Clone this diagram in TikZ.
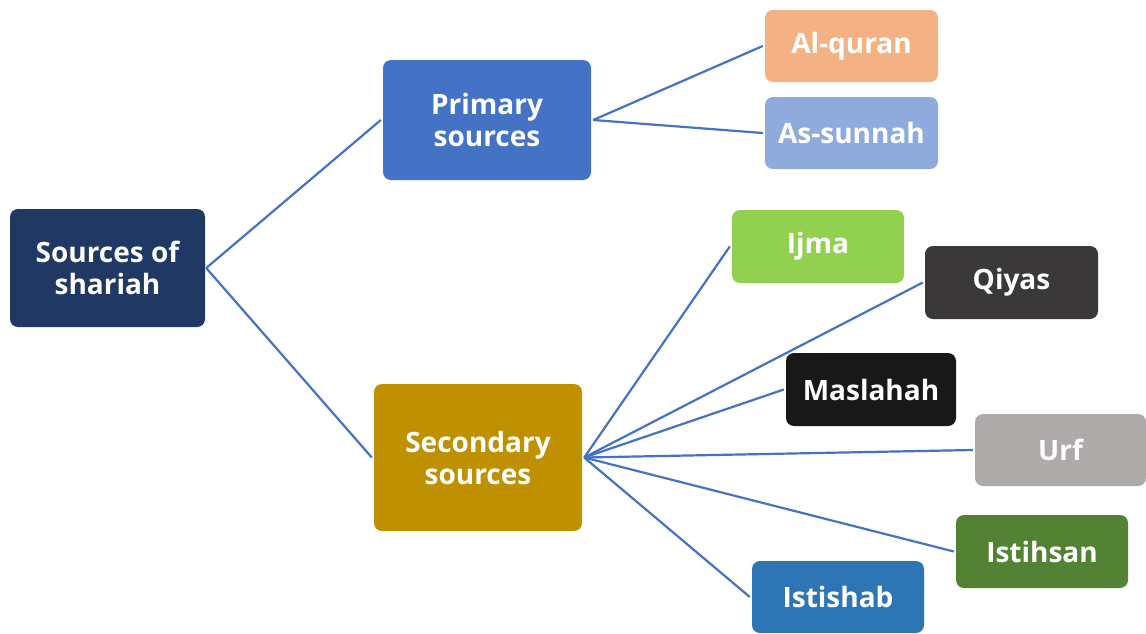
\documentclass[tikz,border=0pt]{standalone}
\usepackage{fontspec}
\setmainfont{Open Sans}
\begin{document}
\begin{tikzpicture}[x=1pt,y=-1pt,
  box/.style={rectangle, rounded corners=8pt, draw=none, text=white,
    font=\fontsize{28}{32}\selectfont\bfseries, align=center, inner sep=0pt},
  link/.style={draw={rgb,255:red,68;green,114;blue,196}, line width=2.2pt}]
\useasboundingbox (0,0) rectangle (1146,633);
\definecolor{cRoot}{HTML}{1F3864}
\definecolor{cPrim}{HTML}{4472C4}
\definecolor{cQuran}{HTML}{F4B183}
\definecolor{cSunnah}{HTML}{8FAADC}
\definecolor{cIjma}{HTML}{92D050}
\definecolor{cQiyas}{HTML}{3A3838}
\definecolor{cMasl}{HTML}{181818}
\definecolor{cUrf}{HTML}{AEAAAA}
\definecolor{cIsth}{HTML}{548235}
\definecolor{cIsts}{HTML}{2E75B6}
\definecolor{cSec}{HTML}{BF9000}
\node[box, fill=cRoot, minimum width=195pt, minimum height=118pt] (root) at (107.5,268) {Sources of\\shariah};
\node[box, fill=cPrim, minimum width=208pt, minimum height=120pt] (prim) at (487,120) {Primary\\sources};
\node[box, fill=cSec, minimum width=208pt, minimum height=147pt] (sec) at (478,457.5) {Secondary\\sources};
\node[box, fill=cQuran, minimum width=173pt, minimum height=72pt] (quran) at (851.5,46) {Al-quran};
\node[box, fill=cSunnah, minimum width=173pt, minimum height=72pt] (sunnah) at (851.5,133) {As-sunnah};
\node[box, fill=cIjma, minimum width=172pt, minimum height=73pt] (ijma) at (818,246.5) {Ijma};
\node[box, fill=cQiyas, minimum width=173pt, minimum height=73pt] (qiyas) at (1011.5,282.5) {Qiyas};
\node[box, fill=cMasl, minimum width=170pt, minimum height=73pt] (masl) at (871,389.5) {Maslahah};
\node[box, fill=cUrf, minimum width=171pt, minimum height=72pt] (urf) at (1060.5,450) {Urf};
\node[box, fill=cIsth, minimum width=172pt, minimum height=73pt] (isth) at (1042,551.5) {Istihsan};
\node[box, fill=cIsts, minimum width=172pt, minimum height=72pt] (ists) at (838,597) {Istishab};
\draw[link] ([xshift=1pt]root.east) -- ([xshift=-2pt]prim.west);
\draw[link] ([xshift=1pt]root.east) -- ([xshift=-2pt]sec.west);
\draw[link] ([xshift=2pt]prim.east) -- ([xshift=-2pt]quran.west);
\draw[link] ([xshift=2pt]prim.east) -- ([xshift=-2pt]sunnah.west);
\draw[link] ([xshift=2pt]sec.east) -- ([xshift=-2pt]ijma.west);
\draw[link] ([xshift=2pt]sec.east) -- ([xshift=-2pt]qiyas.west);
\draw[link] ([xshift=2pt]sec.east) -- ([xshift=-2pt]masl.west);
\draw[link] ([xshift=2pt]sec.east) -- ([xshift=-2pt]urf.west);
\draw[link] ([xshift=2pt]sec.east) -- ([xshift=-2pt]isth.west);
\draw[link] ([xshift=2pt]sec.east) -- ([xshift=-2pt]ists.west);
\end{tikzpicture}
\end{document}
